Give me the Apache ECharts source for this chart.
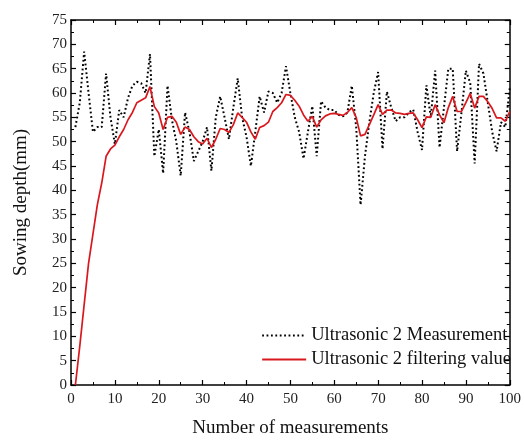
<!DOCTYPE html>
<html>
<head>
<meta charset="utf-8">
<script src="https://cdn.jsdelivr.net/npm/echarts@6/dist/echarts.min.js"></script>
<style>html,body{margin:0;padding:0;background:#fff}#c{width:524px;height:443px}</style>
</head>
<body>
<div id="c"></div>
<script>
var xValues = [];
for (var k = 1; k <= 100; k++) xValues.push(k);

var measurement = [53,58,68.5,60,52,53,53,64,55,49.5,
  56.5,55,59,61.5,62.3,62,60,68,47,52.5,
  43.5,61.5,54.5,50,43,56,52,46,48,50,
  53,44,55,59.3,55,50.5,57,63,55,51,
  45,52,59.3,56,60.3,60,58,60,65.5,60,
  55,52,46.5,52,57.3,47,58.3,57,56.5,56.5,
  55.5,55.2,56,61.5,53,37,47,54,60,64.3,
  48.5,60.3,57,54.2,55,55,56,56.6,52,48.3,
  61.6,55,64.6,48.8,57,65,65,48,56,64.6,
  62,45.5,66,64,58,52,48,54,53,61];

var filtered = [0,8,16.5,25,31,37,41.5,47,48.5,49.3,
  51,52.5,54.5,56,58,58.5,59,61.3,57.2,55.9,
  52.5,55,55.2,54,51.5,53,52.5,51,50,49.5,
  50.7,48.8,50.5,52.7,52.5,51.9,53.5,55.9,55,54,
  52,50.5,52.9,53.3,54,56.2,57,58,59.7,59.5,
  58.5,57.3,55.5,54.2,55.2,53,54.5,55.3,55.7,55.8,
  55.6,55.4,56,57,55,51.2,51.5,53.5,55.5,57.6,
  55.6,56.5,56.5,55.9,55.8,55.6,55.8,55.9,54.5,52.9,
  55.1,55,57.6,55.5,53.9,57,59.3,56.2,56.2,58,
  59.9,56.9,59.3,59.3,58.2,56.8,54.9,54.9,54.2,56.2];

var seriesNames = ['Ultrasonic 2 Measurement', 'Ultrasonic 2 filtering value'];

function pairs(vals) { return vals.map(function (v, i) { return [xValues[i], v]; }); }

var font = '"Liberation Serif", "Times New Roman", serif';
var axisCommon = {
  axisLine: { show: true, onZero: false, lineStyle: { color: '#000', width: 1.5 } },
  axisTick: { show: true, inside: true, length: 5, lineStyle: { color: '#000', width: 1.2 } },
  minorTick: { show: true, splitNumber: 2, length: 3, lineStyle: { color: '#000', width: 1 } },
  splitLine: { show: false }
};
function ax(extra) { return Object.assign({}, JSON.parse(JSON.stringify(axisCommon)), extra); }

var chart = echarts.init(document.getElementById('c'), null, { renderer: 'canvas' });
chart.setOption({
  animation: false,
  backgroundColor: '#fff',
  textStyle: { fontFamily: font },
  grid: { left: 71, right: 12, top: 20, bottom: 51 },
  legend: {
    right: 8, top: 321, orient: 'vertical', itemGap: 5, itemWidth: 44, itemHeight: 18,
    itemStyle: { opacity: 0 },
    textStyle: { fontFamily: font, fontSize: 18.5, color: '#111' },
    data: seriesNames
  },
  xAxis: [
    ax({ type: 'value', position: 'bottom', min: 0, max: 100, interval: 10,
      name: 'Number of measurements', nameLocation: 'middle', nameGap: 34,
      nameTextStyle: { fontFamily: font, fontSize: 19, color: '#111' },
      axisLabel: { fontFamily: font, fontSize: 15, color: '#222', margin: 7 } }),
    ax({ type: 'value', position: 'top', min: 0, max: 100, interval: 10, axisLabel: { show: false } })
  ],
  yAxis: [
    ax({ type: 'value', position: 'left', min: 0, max: 75, interval: 5,
      name: 'Sowing depth(mm)', nameLocation: 'middle', nameGap: 40,
      nameTextStyle: { fontFamily: font, fontSize: 19, color: '#111' },
      axisLabel: { fontFamily: font, fontSize: 15, color: '#222', margin: 4 } }),
    ax({ type: 'value', position: 'right', min: 0, max: 75, interval: 5, axisLabel: { show: false } })
  ],
  series: [
    { name: seriesNames[0], type: 'line', data: pairs(measurement), symbol: 'none',
      lineStyle: { color: '#000', width: 2, type: [1.8, 2.6] }, itemStyle: { color: '#000' }, z: 2 },
    { name: seriesNames[1], type: 'line', data: pairs(filtered), symbol: 'none',
      lineStyle: { color: '#d9181e', width: 1.7 }, itemStyle: { color: '#d9181e' }, z: 3 }
  ]
});
</script>
</body>
</html>
